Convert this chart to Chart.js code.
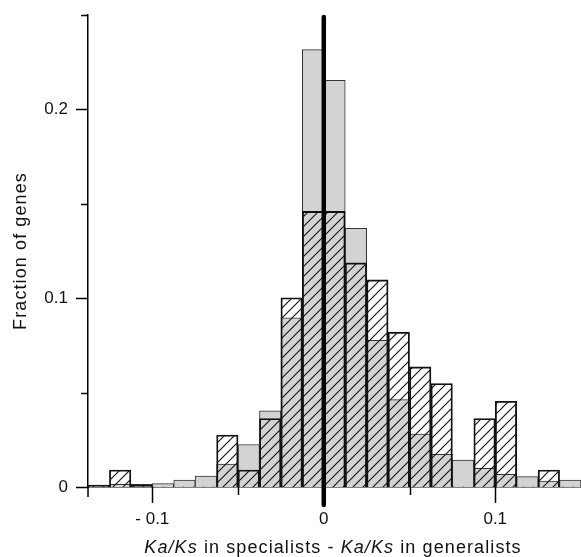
<!DOCTYPE html>
<html>
<head>
<meta charset="utf-8">
<script src="https://cdn.jsdelivr.net/npm/chart.js@4"></script>
<style>
  html, body { margin: 0; padding: 0; background: #fff; }
  canvas { display: block; }
</style>
</head>
<body>
<canvas id="grafica" width="581" height="557"></canvas>
<script>
// bin centres (bin width 0.0125)
const binCentros = [-0.13125, -0.11875, -0.10625, -0.09375, -0.08125, -0.06875, -0.05625, -0.04375,
    -0.03125, -0.01875, -0.00625, 0.00625, 0.01875, 0.03125, 0.04375, 0.05625, 0.06875, 0.08125,
    0.09375, 0.10625, 0.11875, 0.13125, 0.14375];

// solid grey histogram
const valoresGris = [0.0008, 0.0014, 0.0014, 0.0018, 0.0037, 0.0058, 0.0121, 0.0225,
    0.0403, 0.0896, 0.2317, 0.2154, 0.137, 0.0777, 0.0463, 0.028, 0.0173, 0.0143,
    0.0099, 0.0067, 0.0055, 0.0032, 0.0037];

// hatched histogram
const valoresRayado = [0.001, 0.009, 0.001, 0, 0, 0, 0.0275, 0.009,
    0.0363, 0.1002, 0.146, 0.146, 0.1187, 0.1097, 0.082, 0.0636, 0.0548, 0,
    0.0363, 0.0454, 0, 0.009, 0];

const ticksX = [-0.1, -0.05, 0, 0.05, 0.1, 0.15];
const etiquetasX = ['- 0.1', '', '0', '', '0.1', ''];
const ticksY = [0, 0.05, 0.1, 0.15, 0.2, 0.25];
const etiquetasY = ['0', '', '0.1', '', '0.2', ''];

const FUENTE = '"Liberation Sans", Arial, Helvetica, sans-serif';

const canvas = document.getElementById("grafica");
const ctx = canvas.getContext("2d");

function patronRayado() {
    const p = document.createElement("canvas");
    p.width = 10;
    p.height = 10;
    const g = p.getContext("2d");
    g.strokeStyle = "#111";
    g.lineWidth = 1.1;
    g.beginPath();
    g.moveTo(-1, 11); g.lineTo(11, -1);
    g.moveTo(-6, 6);  g.lineTo(6, -6);
    g.moveTo(4, 16);  g.lineTo(16, 4);
    g.stroke();
    return ctx.createPattern(p, "repeat");
}

// ticks of two lengths, zero line and axis titles with italic parts
const ejesPlugin = {
    id: "ejes",
    afterDatasetsDraw(chart) {
        const c = chart.ctx;
        const xs = chart.scales.x, ys = chart.scales.y;
        const area = chart.chartArea;
        c.save();
        c.strokeStyle = "#000";
        c.lineWidth = 1.5;
        c.beginPath();
        ticksX.forEach((v, i) => {
            const px = Math.round(xs.getPixelForValue(v)) + 0.5;
            const largo = etiquetasX[i] ? 16 : 8;
            if (v >= 0.15) return;
            c.moveTo(px, area.bottom);
            c.lineTo(px, area.bottom + largo);
        });
        c.moveTo(area.left, area.bottom);
        c.lineTo(area.left, area.bottom + 10);
        ticksY.forEach((v, i) => {
            const py = Math.round(ys.getPixelForValue(v)) + 0.5;
            const largo = etiquetasY[i] ? 12 : 7;
            c.moveTo(area.left, py);
            c.lineTo(area.left - largo, py);
        });
        c.stroke();

        const x0 = xs.getPixelForValue(0);
        c.lineWidth = 4.5;
        c.lineCap = "round";
        c.beginPath();
        c.moveTo(x0, area.top + 2);
        c.lineTo(x0, area.bottom + 18);
        c.stroke();
        c.restore();

        // x title
        c.save();
        c.fillStyle = "#111";
        c.textBaseline = "alphabetic";
        c.letterSpacing = "1.1px";
        const partes = [["Ka/Ks", true], [" in specialists - ", false], ["Ka/Ks", true], [" in generalists", false]];
        let total = 0;
        partes.forEach(p => {
            c.font = (p[1] ? "italic " : "") + "18px " + FUENTE;
            total += c.measureText(p[0]).width;
        });
        let x = 333 - total / 2;
        partes.forEach(p => {
            c.font = (p[1] ? "italic " : "") + "18px " + FUENTE;
            c.fillText(p[0], x, 553);
            x += c.measureText(p[0]).width;
        });
        c.restore();

        // y title
        c.save();
        c.fillStyle = "#111";
        c.font = "18px " + FUENTE;
        c.letterSpacing = "1.1px";
        c.translate(26, 251);
        c.rotate(-Math.PI / 2);
        c.textAlign = "center";
        c.textBaseline = "alphabetic";
        c.fillText("Fraction of genes", 0, 0);
        c.restore();
    }
};

new Chart(ctx, {
    type: 'bar',
    data: {
        datasets: [{
            label: 'gris',
            data: binCentros.map((x, i) => ({ x: x, y: valoresGris[i] })),
            backgroundColor: '#d3d3d3',
            borderColor: '#333',
            borderWidth: 1,
            grouped: false,
            order: 2,
            barPercentage: 1,
            categoryPercentage: 1
        }, {
            label: 'rayado',
            data: binCentros.map((x, i) => ({ x: x, y: valoresRayado[i] })),
            backgroundColor: patronRayado(),
            borderColor: '#111',
            borderWidth: c => (c.raw && c.raw.y > 0 ? 1.2 : 0),
            grouped: false,
            order: 1,
            barPercentage: 1,
            categoryPercentage: 1
        }]
    },
    options: {
        responsive: false,
        animation: false,
        layout: { padding: { top: 15, right: 0, left: 0, bottom: 0 } },
        plugins: {
            legend: { display: false },
            tooltip: { enabled: false }
        },
        scales: {
            x: {
                type: 'linear',
                offset: false,
                min: -0.1375,
                max: 0.15,
                afterBuildTicks: s => { s.ticks = ticksX.map(v => ({ value: v })); },
                afterFit: s => { s.height = 70; s.paddingLeft = 0; s.paddingRight = 0; },
                grid: { display: false, drawTicks: false, offset: false },
                border: { display: true, color: '#000', width: 1.5 },
                ticks: {
                    autoSkip: false,
                    maxRotation: 0,
                    padding: 22,
                    color: '#111',
                    font: { family: FUENTE, size: 17 },
                    callback: (v, i) => etiquetasX[i]
                }
            },
            y: {
                min: 0,
                max: 0.25,
                afterBuildTicks: s => { s.ticks = ticksY.map(v => ({ value: v })); },
                afterFit: s => { s.width = 88; s.paddingTop = 0; s.paddingBottom = 0; },
                grid: { display: false, drawTicks: false },
                border: { display: true, color: '#000', width: 1.5 },
                ticks: {
                    autoSkip: false,
                    padding: 20,
                    color: '#111',
                    font: { family: FUENTE, size: 17 },
                    callback: (v, i) => etiquetasY[i]
                }
            }
        }
    },
    plugins: [ejesPlugin]
});
</script>
</body>
</html>
